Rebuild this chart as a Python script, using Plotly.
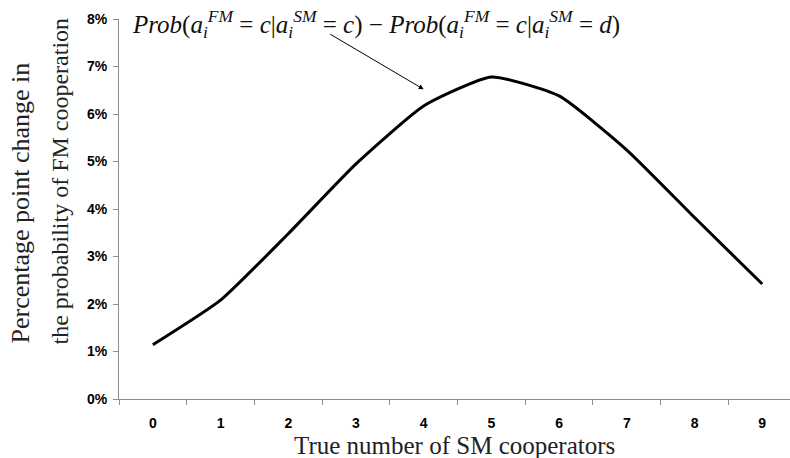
import plotly.graph_objects as go

categories = ["0", "1", "2", "3", "4", "5", "6", "7", "8", "9"]
pp_change = [1.14, 2.08, 3.48, 4.95, 6.17, 6.78, 6.38, 5.24, 3.82, 2.42]
y_tick_vals = [0, 1, 2, 3, 4, 5, 6, 7, 8]
y_tick_text = ["0%", "1%", "2%", "3%", "4%", "5%", "6%", "7%", "8%"]

serif = "Liberation Serif"
sans = "Liberation Sans"

fig = go.Figure()
fig.add_trace(go.Scatter(
    x=categories, y=pp_change, mode="lines",
    line=dict(color="black", width=3, shape="spline", smoothing=0.5),
    showlegend=False, hoverinfo="skip",
))

axis_col = "#8c8c8c"
fig.update_xaxes(
    type="category", range=[-0.5, 9.41],
    showline=True, linecolor=axis_col, linewidth=1,
    ticks="outside", tickson="boundaries", ticklen=5, tickcolor=axis_col,
    showgrid=False, zeroline=False,
    tickfont=dict(family=sans, size=14, color="black", weight="bold"),
    ticklabelstandoff=11,
)
fig.update_yaxes(
    range=[0, 8], tickvals=y_tick_vals, ticktext=y_tick_text,
    showline=True, linecolor=axis_col, linewidth=1,
    ticks="outside", ticklen=5, tickcolor=axis_col,
    showgrid=False, zeroline=False,
    tickfont=dict(family=sans, size=14, color="black", weight="bold"),
    ticklabelstandoff=3,
)

title_txt = ("<i>Prob</i>(<i>a</i><sub><i>i</i></sub><sup><i>FM</i></sup> = <i>c</i>|"
             "<i>a</i><sub><i>i</i></sub><sup><i>SM</i></sup> = <i>c</i>) − "
             "<i>Prob</i>(<i>a</i><sub><i>i</i></sub><sup><i>FM</i></sup> = <i>c</i>|"
             "<i>a</i><sub><i>i</i></sub><sup><i>SM</i></sup> = <i>d</i>)")
fig.add_annotation(
    xref="paper", yref="paper", x=(130 - 119) / 671, y=1 - 5 / 380,
    xanchor="left", yanchor="middle", text=title_txt, showarrow=False,
    font=dict(family=serif, size=25, color="#111"),
)
# arrow
fig.add_annotation(
    x="4", y=6.52, xref="x", yref="y", text="", showarrow=True,
    arrowhead=2, arrowsize=1, arrowwidth=1, arrowcolor="black",
    ax=-95, ay=-56,
)
# y-axis title (two lines, aligned at the bottom)
fig.add_annotation(
    xref="paper", yref="paper", x=-(119 - 20) / 671, y=(399 - 346) / 380,
    xanchor="center", yanchor="bottom", text="Percentage point change in",
    textangle=-90, showarrow=False, font=dict(family=serif, size=26, color="#222"),
)
fig.add_annotation(
    xref="paper", yref="paper", x=-(119 - 59) / 671, y=(399 - 347) / 380,
    xanchor="center", yanchor="bottom", text="the probability of FM cooperation",
    textangle=-90, showarrow=False, font=dict(family=serif, size=24, color="#222"),
)
# x-axis title
fig.add_annotation(
    xref="paper", yref="paper", x=(454 - 119) / 671, y=-(445 - 399) / 380,
    xanchor="center", yanchor="middle", text="True number of SM cooperators",
    showarrow=False, font=dict(family=serif, size=25, color="#222"),
)

fig.update_layout(
    width=790, height=458,
    margin=dict(l=119, r=0, t=19, b=59),
    plot_bgcolor="white", paper_bgcolor="white",
)
fig.write_html("out.html", config={"displayModeBar": False},
               post_script="document.body.style.margin='0';")
